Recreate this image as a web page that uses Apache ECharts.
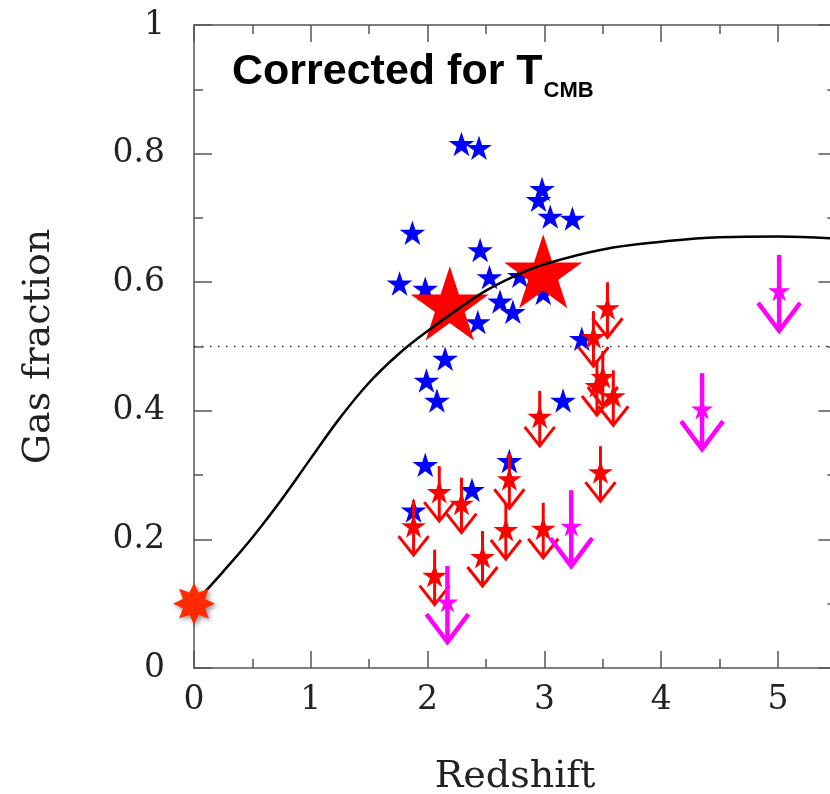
<!DOCTYPE html>
<html>
<head>
<meta charset="utf-8">
<script src="https://cdn.jsdelivr.net/npm/echarts@6/dist/echarts.min.js"></script>
<style>
html,body{margin:0;padding:0;background:#fff;}
#chart{width:830px;height:794px;}
</style>
</head>
<body>
<div id="chart"></div>
<script>
// ---- data (redshift z, gas fraction) ----
const blueStars = [
  [1.76,0.596],[1.87,0.675],[1.98,0.588],[2.29,0.813],[2.44,0.807],
  [2.45,0.648],[2.53,0.606],[2.62,0.568],[2.73,0.552],[2.43,0.536],
  [2.79,0.608],[2.99,0.581],[2.98,0.743],[2.95,0.726],[3.05,0.700],
  [3.24,0.697],[2.15,0.479],[1.99,0.445],[2.08,0.414],[1.98,0.314],
  [1.88,0.243],[3.32,0.510],[3.16,0.414],[2.70,0.320],[2.38,0.275]
];
const redLimits = [
  [1.88,0.219],[2.10,0.272],[2.29,0.254],[2.70,0.292],[2.67,0.213],
  [2.99,0.215],[2.47,0.171],[2.06,0.142],[3.48,0.303],[2.96,0.389],
  [3.54,0.558],[3.42,0.513],[3.45,0.437],[3.50,0.451],[3.59,0.421]
];
const magentaLimits = [[2.17,0.101],[3.23,0.219],[4.35,0.401],[5.01,0.585]];
const bigRedStars = [[2.19,0.561],[2.99,0.611]];
const localPoint = [[0,0.100]];
const modelZ = [0,0.25,0.5,0.75,1.0,1.25,1.5,1.75,2.0,2.25,2.5,2.75,3.0,3.5,4.0,4.5,5.0,5.5];
const modelF = [0.100,0.150,0.203,0.262,0.326,0.389,0.444,0.488,0.524,0.557,0.587,0.610,0.628,0.651,0.663,0.670,0.671,0.668];
const xTicks = [0,1,2,3,4,5];
const yTicks = [0,0.2,0.4,0.6,0.8,1];
const halfLine = 0.5;
const titleMain = 'Corrected for T';
const titleSub = 'CMB';

function starPts(cx, cy, R, r, n) {
  const pts = [];
  for (let i = 0; i < 2 * n; i++) {
    const a = -Math.PI / 2 + i * Math.PI / n;
    const rad = (i % 2) ? r : R;
    pts.push([cx + rad * Math.cos(a), cy + rad * Math.sin(a)]);
  }
  return pts;
}

function starRender(R, color) {
  return function (params, api) {
    const p = api.coord([api.value(0), api.value(1)]);
    return { type: 'polygon', shape: { points: starPts(p[0], p[1], R, R * 0.382, 5) }, style: { fill: color } };
  };
}

function limitRender(R, color, lw, up, down, armW, armY) {
  return function (params, api) {
    const p = api.coord([api.value(0), api.value(1)]);
    const x = p[0], y = p[1];
    return {
      type: 'group',
      children: [
        { type: 'line', shape: { x1: x, y1: y - up, x2: x, y2: y + down - 1 }, style: { stroke: color, lineWidth: lw } },
        { type: 'polyline', shape: { points: [[x - armW, y + armY], [x, y + down], [x + armW, y + armY]] }, style: { stroke: color, lineWidth: lw, fill: null, lineJoin: 'miter' } },
        { type: 'polygon', shape: { points: starPts(x, y, R, R * 0.382, 5) }, style: { fill: color } }
      ]
    };
  };
}

const axisCol = '#555';
const tickFont = 'DejaVu Serif';
function xAxisDef(pos, showLabel) {
  return {
    type: 'value', position: pos, min: 0, max: 5.5, interval: 1,
    axisLine: { show: true, onZero: false, lineStyle: { color: axisCol, width: 1.5 } },
    axisTick: { show: true, inside: true, length: 17, lineStyle: { color: axisCol, width: 1.5 } },
    minorTick: { show: true, splitNumber: 2, length: 9, lineStyle: { color: axisCol, width: 1.5 } },
    splitLine: { show: false }, minorSplitLine: { show: false },
    axisLabel: {
      show: showLabel, margin: 16, fontFamily: tickFont, fontSize: 33, color: '#222',
      formatter: v => (xTicks.indexOf(v) >= 0 ? String(v) : '')
    },
    name: showLabel ? 'Redshift' : '', nameLocation: 'middle', nameGap: 90,
    nameTextStyle: { fontFamily: tickFont, fontSize: 38, color: '#222' }
  };
}
function yAxisDef(pos, showLabel) {
  return {
    type: 'value', position: pos, min: 0, max: 1, interval: 0.2,
    axisLine: { show: true, onZero: false, lineStyle: { color: axisCol, width: 1.5 } },
    axisTick: { show: true, inside: true, length: 18, lineStyle: { color: axisCol, width: 1.5 } },
    minorTick: { show: true, splitNumber: 2, length: 9, lineStyle: { color: axisCol, width: 1.5 } },
    splitLine: { show: false }, minorSplitLine: { show: false },
    axisLabel: {
      show: showLabel, margin: 29, fontFamily: tickFont, fontSize: 33, color: '#222',
      formatter: v => { const t = yTicks.find(k => Math.abs(k - v) < 1e-9); return t === undefined ? '' : (t === 0 ? '0' : t === 1 ? '1' : t.toFixed(1)); }
    },
    name: showLabel ? 'Gas fraction' : '', nameLocation: 'middle', nameGap: 136, nameRotate: 90,
    nameTextStyle: { fontFamily: tickFont, fontSize: 38, color: '#222' }
  };
}

const titleLeft = 227;
const mctx = document.createElement('canvas').getContext('2d');
mctx.font = 'bold 43px "Liberation Sans"';
const mainW = mctx.measureText(titleMain).width;

const chart = echarts.init(document.getElementById('chart'), null, { renderer: 'canvas' });
chart.setOption({
  backgroundColor: '#fff',
  animation: false,
  title: [
    { text: titleMain, left: titleLeft, top: 46,
      textStyle: { fontFamily: 'Liberation Sans', fontWeight: 'bold', fontSize: 43, color: '#000' } },
    { text: titleSub, left: titleLeft + mainW + 1, top: 75,
      textStyle: { fontFamily: 'Liberation Sans', fontWeight: 'bold', fontSize: 22, color: '#000' } }
  ],
  grid: { left: 194, top: 25, width: 642.4, height: 643, outerBoundsMode: 'none', containLabel: false },
  xAxis: [xAxisDef('bottom', true), xAxisDef('top', false)],
  yAxis: [yAxisDef('left', true), yAxisDef('right', false)],
  series: [
    { type: 'line', data: [[0, halfLine], [5.5, halfLine]], showSymbol: false, silent: true, z: 1,
      lineStyle: { color: '#333', width: 1.5, type: [1.5, 6.5] } },
    { type: 'custom', data: blueStars, renderItem: starRender(13.5, '#0000ff'), z: 2 },
    { type: 'custom', data: redLimits, renderItem: limitRender(13, '#ff0000', 3, 27, 28, 15, 9), z: 3 },
    { type: 'custom', data: magentaLimits, renderItem: limitRender(11.5, '#ff00ff', 4.5, 37, 39, 21, 11), z: 4 },
    { type: 'custom', data: bigRedStars, renderItem: starRender(41, '#ff0000'), z: 5 },
    { type: 'line', data: modelZ.map((z, i) => [z, modelF[i]]), showSymbol: false, smooth: 0.4, z: 6,
      lineStyle: { color: '#000', width: 2.5 } },
    { type: 'custom', data: localPoint, z: 7,
      renderItem: function (params, api) {
        const p = api.coord([api.value(0), api.value(1)]);
        return { type: 'polygon', shape: { points: starPts(p[0], p[1], 21, 12, 8) },
          style: { fill: '#ff2a00', shadowBlur: 5, shadowColor: 'rgba(0,0,0,0.45)', shadowOffsetX: 2, shadowOffsetY: 2 } };
      } }
  ]
});
</script>
</body>
</html>
